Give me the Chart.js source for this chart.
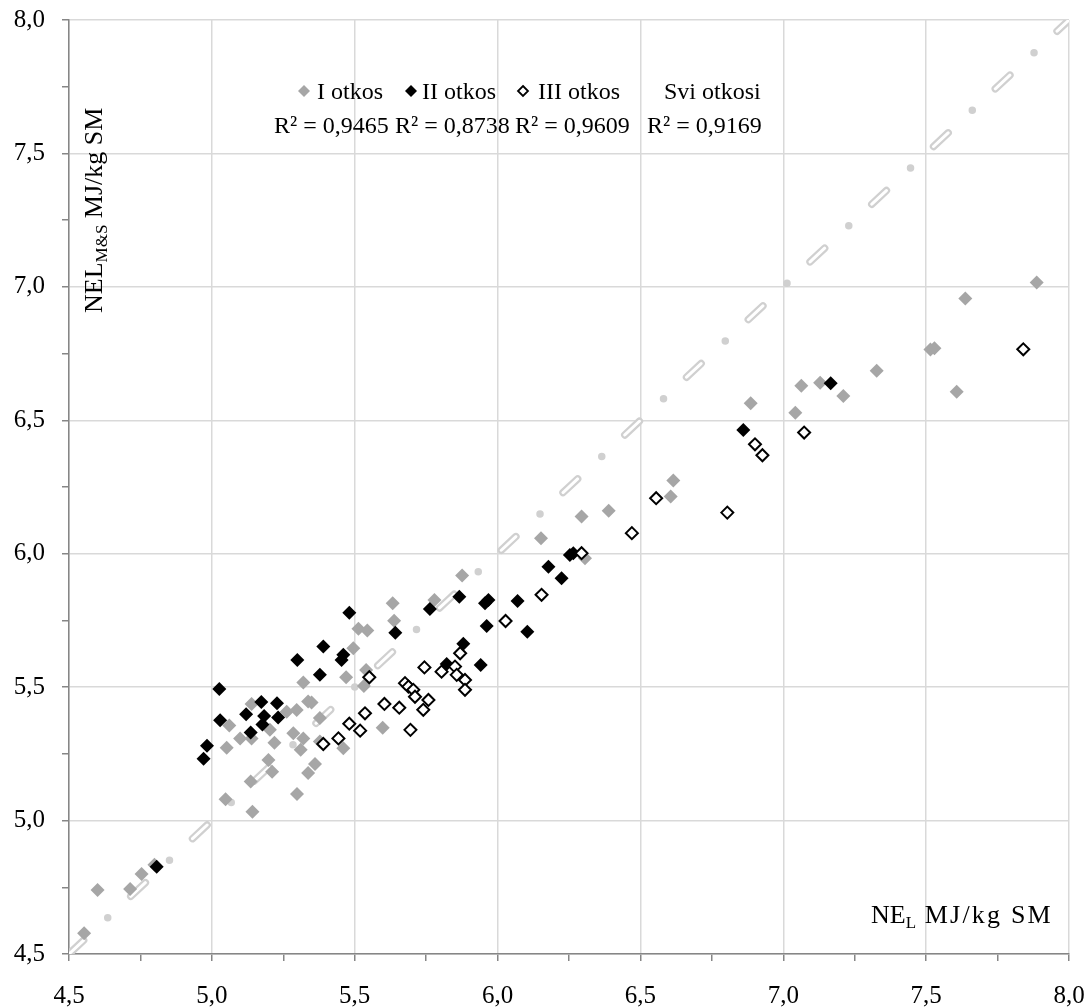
<!DOCTYPE html>
<html>
<head>
<meta charset="utf-8">
<script src="https://cdn.jsdelivr.net/npm/chart.js@4.4.1/dist/chart.umd.min.js"></script>
<style>
  html, body { margin: 0; padding: 0; background: #fff; }
  #wrap { width: 1089px; height: 1008px; }
</style>
</head>
<body>
<div id="wrap"><canvas id="chart"></canvas></div>
<script>
// I otkos
const cut1X = [4.553, 4.600, 4.714, 4.754, 4.799, 5.048, 5.052, 5.061, 5.099, 5.136, 5.139, 5.139, 5.142, 5.198, 5.203, 5.211, 5.219, 5.262, 5.285, 5.297, 5.298, 5.311, 5.320, 5.320, 5.337, 5.337, 5.349, 5.361, 5.378, 5.378, 5.460, 5.470, 5.495, 5.513, 5.532, 5.540, 5.544, 5.598, 5.633, 5.638, 5.779, 5.876, 6.152, 6.294, 6.306, 6.389, 6.606, 6.615, 6.886, 7.042, 7.063, 7.129, 7.210, 7.327, 7.515, 7.529, 7.607, 7.637, 7.887]
const cut1Y = [4.578, 4.740, 4.744, 4.800, 4.834, 5.080, 5.273, 5.356, 5.308, 5.146, 5.437, 5.308, 5.033, 5.227, 5.340, 5.183, 5.292, 5.408, 5.327, 5.414, 5.100, 5.265, 5.517, 5.308, 5.178, 5.446, 5.442, 5.212, 5.384, 5.296, 5.271, 5.537, 5.646, 5.719, 5.504, 5.564, 5.712, 5.348, 5.814, 5.749, 5.827, 5.918, 6.058, 6.139, 5.983, 6.161, 6.214, 6.274, 6.564, 6.528, 6.629, 6.641, 6.591, 6.686, 6.765, 6.770, 6.607, 6.956, 7.016]

// II otkos
const cut2X = [4.807, 4.971, 4.983, 5.026, 5.029, 5.120, 5.136, 5.173, 5.177, 5.183, 5.228, 5.232, 5.299, 5.378, 5.390, 5.454, 5.460, 5.481, 5.642, 5.763, 5.822, 5.866, 5.880, 5.941, 5.956, 5.962, 5.968, 6.070, 6.104, 6.178, 6.224, 6.253, 6.265, 6.860, 7.166]
const cut2Y = [4.827, 5.232, 5.280, 5.493, 5.376, 5.398, 5.330, 5.444, 5.360, 5.392, 5.440, 5.386, 5.602, 5.546, 5.652, 5.602, 5.621, 5.779, 5.704, 5.793, 5.587, 5.839, 5.663, 5.583, 5.814, 5.729, 5.827, 5.823, 5.708, 5.951, 5.908, 5.995, 6.002, 6.464, 6.639]

// III otkos
const cut3X = [5.390, 5.443, 5.481, 5.519, 5.536, 5.551, 5.604, 5.656, 5.676, 5.688, 5.695, 5.705, 5.711, 5.740, 5.744, 5.758, 5.804, 5.851, 5.857, 5.869, 5.886, 5.886, 6.028, 6.154, 6.294, 6.470, 6.555, 6.804, 6.901, 6.927, 7.073, 7.840]
const cut3Y = [5.287, 5.308, 5.363, 5.337, 5.402, 5.537, 5.437, 5.423, 5.515, 5.502, 5.340, 5.490, 5.464, 5.415, 5.574, 5.452, 5.558, 5.577, 5.546, 5.627, 5.527, 5.490, 5.748, 5.846, 6.002, 6.077, 6.208, 6.154, 6.410, 6.369, 6.454, 6.766]

// Svi otkosi (line)
const allX = [4.5, 8.0]
const allY = [4.5, 8.0]

const legendLabels = ['I otkos', 'II otkos', 'III otkos', 'Svi otkosi']
const r2Labels = ['R² = 0,9465', 'R² = 0,8738', 'R² = 0,9609', 'R² = 0,9169']

const GRAY = '#a6a6a6'
const FONT = '"Liberation Serif", "Times New Roman", serif'

function pts(xs, ys) {
  return xs.map((x, i) => ({ x: x, y: ys[i] }))
}

function label(v) {
  return v.toFixed(1).replace('.', ',')
}

function isMajor(v) {
  return Math.abs(v * 2 - Math.round(v * 2)) < 1e-6
}

function diamond(ctx, x, y, r, fill, stroke, lw) {
  ctx.beginPath()
  ctx.moveTo(x, y - r)
  ctx.lineTo(x + r, y)
  ctx.lineTo(x, y + r)
  ctx.lineTo(x - r, y)
  ctx.closePath()
  ctx.fillStyle = fill
  ctx.fill()
  if (stroke) {
    ctx.lineWidth = lw
    ctx.strokeStyle = stroke
    ctx.stroke()
  }
}

// legend, R² labels and axis titles sit inside the plot area
const textPlugin = {
  id: 'texts',
  afterDraw(chart) {
    const ctx = chart.ctx
    const big = '24px ' + FONT
    const title = '26px ' + FONT
    const small = '17px ' + FONT
    ctx.save()
    ctx.fillStyle = '#000'
    ctx.textBaseline = 'alphabetic'
    ctx.textAlign = 'left'

    // legend row
    const textX = [317, 422, 538, 664]
    diamond(ctx, 304, 91, 6, GRAY)
    diamond(ctx, 411, 91, 6, '#000')
    diamond(ctx, 523, 91, 5, '#fff', '#000', 1.8)
    ctx.fillStyle = '#000'
    ctx.font = big
    legendLabels.forEach((t, i) => ctx.fillText(t, textX[i], 99))

    // R² row
    const r2X = [274, 395, 515, 647]
    r2Labels.forEach((t, i) => ctx.fillText(t, r2X[i], 133))

    // y title (rotated)
    ctx.save()
    ctx.translate(102, 313)
    ctx.rotate(-Math.PI / 2)
    let x = 0
    ctx.font = title
    ctx.fillText('NEL', x, 0)
    x += ctx.measureText('NEL').width
    ctx.font = small
    ctx.fillText('M&S', x, 5)
    x += ctx.measureText('M&S').width
    ctx.font = title
    ctx.fillText(' MJ/kg SM', x, 0)
    ctx.restore()

    // x title
    x = 871
    ctx.font = title
    ctx.fillText('NE', x, 923)
    x += ctx.measureText('NE').width
    ctx.font = small
    ctx.fillText('L', x, 928)
    x += ctx.measureText('L').width
    ctx.font = title
    ctx.letterSpacing = '2.2px'
    ctx.fillText(' MJ/kg SM', x, 923)
    ctx.restore()
  }
}

const axis = {
  type: 'linear',
  min: 4.5,
  max: 8.0,
  border: { display: true, color: '#868686', width: 1.5 },
  grid: {
    color: c => isMajor(c.tick.value) ? '#d9d9d9' : 'rgba(0,0,0,0)',
    lineWidth: 1.5,
    drawTicks: true,
    tickLength: 7,
    tickColor: '#868686',
    tickWidth: 1.5
  },
  ticks: {
    stepSize: 0.25,
    color: '#000',
    font: { family: FONT, size: 25 },
    callback: v => isMajor(v) ? label(v) : ''
  }
}

new Chart(document.getElementById('chart'), {
  type: 'scatter',
  data: {
    datasets: [
      {
        label: 'III otkos',
        data: pts(cut3X, cut3Y),
        pointStyle: 'rectRot',
        pointRadius: 6,
        backgroundColor: '#fff',
        borderColor: '#000',
        borderWidth: 2,
        order: 1
      },
      {
        label: 'II otkos',
        data: pts(cut2X, cut2Y),
        pointStyle: 'rectRot',
        pointRadius: 7,
        backgroundColor: '#000',
        borderColor: '#000',
        borderWidth: 0,
        order: 2
      },
      {
        label: 'I otkos',
        data: pts(cut1X, cut1Y),
        pointStyle: 'rectRot',
        pointRadius: 7,
        backgroundColor: GRAY,
        borderColor: GRAY,
        borderWidth: 0,
        order: 3
      },
      {
        label: 'Svi otkosi inner',
        data: pts(allX, allY),
        showLine: true,
        pointRadius: 0,
        borderColor: '#fff',
        borderWidth: 3,
        borderCapStyle: 'round',
        borderDash: [20, 64.5],
        order: 10
      },
      {
        label: 'Svi otkosi',
        data: pts(allX, allY),
        showLine: true,
        pointRadius: 0,
        borderColor: '#d0d0d0',
        borderWidth: 7.5,
        borderCapStyle: 'round',
        borderDash: [20, 33, 0, 31.5],
        order: 11
      }
    ]
  },
  options: {
    responsive: true,
    maintainAspectRatio: false,
    animation: false,
    layout: { padding: { left: 0, right: 20, top: 20, bottom: 0 } },
    plugins: {
      legend: { display: false },
      tooltip: { enabled: false }
    },
    scales: {
      x: Object.assign({}, axis, {
        ticks: Object.assign({}, axis.ticks, { padding: 20, maxRotation: 0 }),
        afterFit: s => { s.height = 54; s.paddingLeft = 0; s.paddingRight = 0 }
      }),
      y: Object.assign({}, axis, {
        ticks: Object.assign({}, axis.ticks, { padding: 17 }),
        afterFit: s => { s.width = 69; s.paddingTop = 0; s.paddingBottom = 0 }
      })
    }
  },
  plugins: [textPlugin]
})
</script>
</body>
</html>
